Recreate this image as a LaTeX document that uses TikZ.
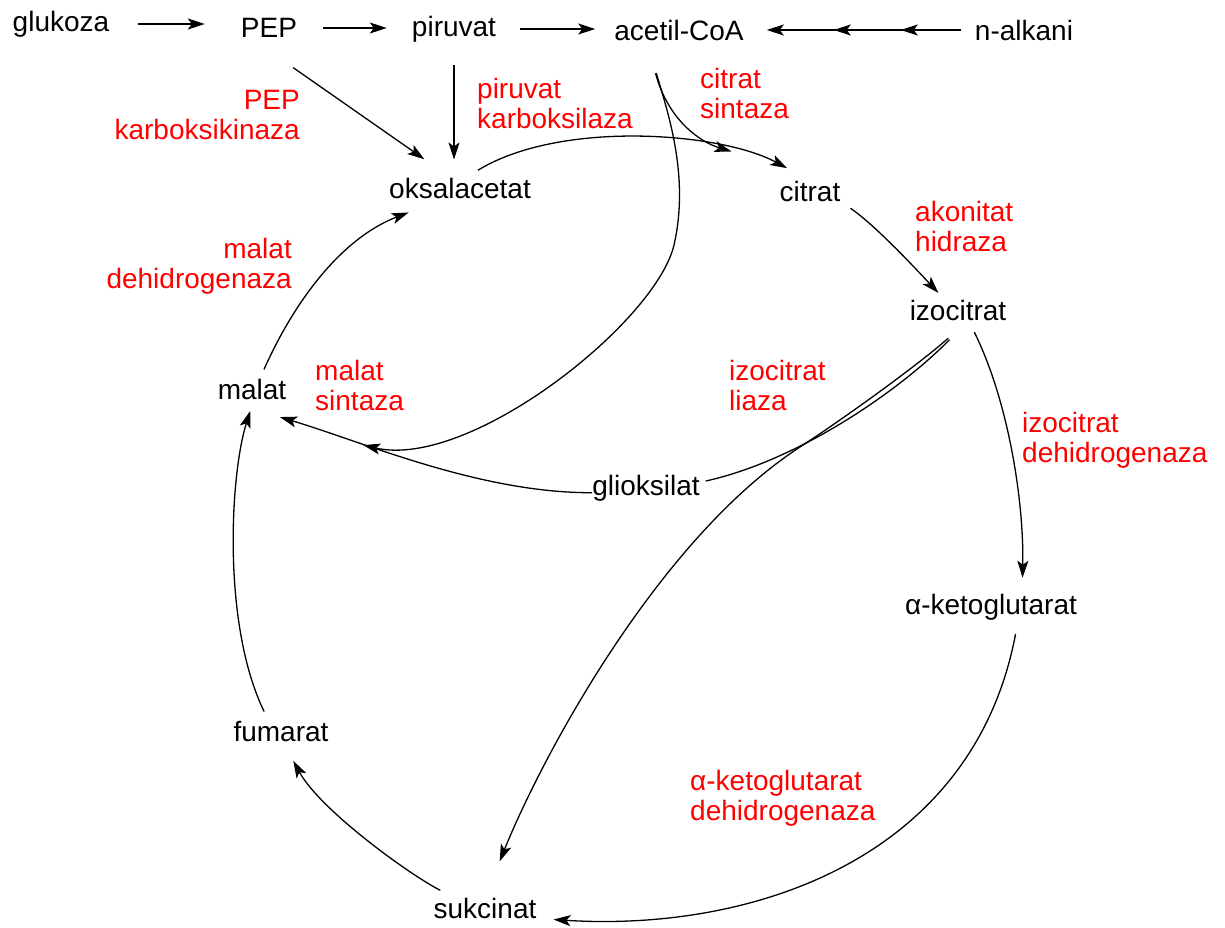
\documentclass[tikz,border=0pt]{standalone}
\usepackage{fontspec}
\setmainfont{Liberation Sans}
\usetikzlibrary{arrows.meta,decorations.markings}
\tikzset{
>={Stealth[length=17pt,width=11pt,inset=4pt]},
metabolit/.style={inner sep=0pt, font=\fontsize{28}{30}\selectfont},
enzim/.style={inner sep=0pt, text=red, font=\fontsize{28}{30}\selectfont},
reakcija/.style={->, line width=1.3pt},
crta/.style={line width=1.3pt},
}

\begin{document}
\begin{tikzpicture}[x=1pt,y=-1pt]
\useasboundingbox (0,0) rectangle (1225,928);
\node[metabolit] at (61,24) (glukoza) {glukoza};
\node[metabolit] at (269,28) (PEP) {PEP};
\node[metabolit] at (454,29) (piruvat) {piruvat};
\node[metabolit] at (679,30) (acetilCoA) {acetil-CoA};
\node[metabolit] at (1024,30) (nalkani) {n-alkani};
\node[metabolit] at (460,188) (oksalacetat) {oksalacetat};
\node[metabolit] at (810,191) (citrat) {citrat};
\node[metabolit] at (958,310) (izocitrat) {izocitrat};
\node[metabolit] at (252,389) (malat) {malat};
\node[metabolit] at (646,488) (glioksilat) {glioksilat};
\node[metabolit] at (991,607) (ketoglutarat) {α-ketoglutarat};
\node[metabolit] at (281,731) (fumarat) {fumarat};
\node[metabolit] at (485,908) (sukcinat) {sukcinat};
\node[enzim, anchor=east, align=right] at (300,115) (pepck) {PEP\\karboksikinaza};
\node[enzim, anchor=west, align=left] at (477,103) (pc) {piruvat\\karboksilaza};
\node[enzim, anchor=west, align=left] at (700,93) (cs) {citrat\\sintaza};
\node[enzim, anchor=west, align=left] at (915,226) (akon) {akonitat\\hidraza};
\node[enzim, anchor=east, align=right] at (292,266) (mdh) {malat\\dehidrogenaza};
\node[enzim, anchor=west, align=left] at (315,385) (ms) {malat\\sintaza};
\node[enzim, anchor=west, align=left] at (729,385) (icl) {izocitrat\\liaza};
\node[enzim, anchor=west, align=left] at (1022,440) (idh) {izocitrat\\dehidrogenaza};
\node[enzim, anchor=west, align=left] at (690,798) (kgdh) {α-ketoglutarat\\dehidrogenaza};
%top row
\draw[reakcija, shorten <=29pt, shorten >=36pt] (glukoza.east) -- (glukoza.east -| PEP.west);
\draw[reakcija, shorten <=26pt, shorten >=25pt] (PEP.east) -- (PEP.east -| piruvat.west);
\draw[reakcija, shorten <=24pt, shorten >=19pt] (piruvat.east) -- (piruvat.east -| acetilCoA.west);
\draw[reakcija, shorten <=14pt, shorten >=23pt, postaction={decoration={markings,mark=at position 74pt with {\arrow{>}},mark=at position 141pt with {\arrow{>}}},decorate}] (nalkani.west) -- (acetilCoA.east);
\draw[reakcija, shorten <=52pt, shorten >=32pt] (PEP.208) -- (oksalacetat.132);
\draw[reakcija, shorten <=23pt, shorten >=18pt] (piruvat.south) -- (piruvat.south |- oksalacetat.north);
%cycle
\draw[reakcija, shorten <=14pt, shorten >=26pt] (oksalacetat.60) .. controls (560,120) and (720,132) .. (citrat.north) coordinate[pos=0.75] (spoj);
\draw[reakcija, shorten <=34pt] (acetilCoA.198) .. controls (668,120) and (700,142) .. (spoj);
\draw[reakcija, shorten <=12pt, shorten >=9pt] (citrat.south east) .. controls (875,225) and (915,268) .. (izocitrat.142);
\draw[reakcija, shorten <=13pt, shorten >=16pt] (izocitrat.-45) .. controls (1008,400) and (1024,500) .. (ketoglutarat.23);
\draw[reakcija, shorten <=14pt, shorten >=17pt] (ketoglutarat.-26) .. controls (973,859) and (752,932) .. (sukcinat.south east);
\draw[reakcija, shorten <=16pt, shorten >=22pt] (sukcinat.161) .. controls (410,875) and (320,810) .. (fumarat.-80);
\draw[reakcija, shorten <=10pt, shorten >=12pt] (fumarat.140) .. controls (222,625) and (230,475) .. (malat.-80);
\draw[reakcija, shorten <=10pt, shorten >=39pt] (malat.53) .. controls (295,300) and (342,238) .. (oksalacetat.215);
%glyoxylate shunt
\draw[reakcija, shorten <=27pt, shorten >=39pt] (izocitrat.-45) .. controls (912,370) and (834,425) .. (800,447) .. controls (660,538) and (544,752) .. (sukcinat.north);
\draw[crta, shorten <=27pt, shorten >=6pt] (izocitrat.-45) .. controls (900,390) and (800,460) .. (glioksilat.6);
\draw[reakcija, shorten >=61pt] (glioksilat.185) .. controls (480,493) and (366,443) .. (malat.199) coordinate[pos=0.65] (spoj2);
\draw[reakcija, shorten <=34pt] (acetilCoA.198) .. controls (667,110) and (690,175) .. (674,245) .. controls (656,322) and (470,470) .. (spoj2);
\end{tikzpicture}
\end{document}
